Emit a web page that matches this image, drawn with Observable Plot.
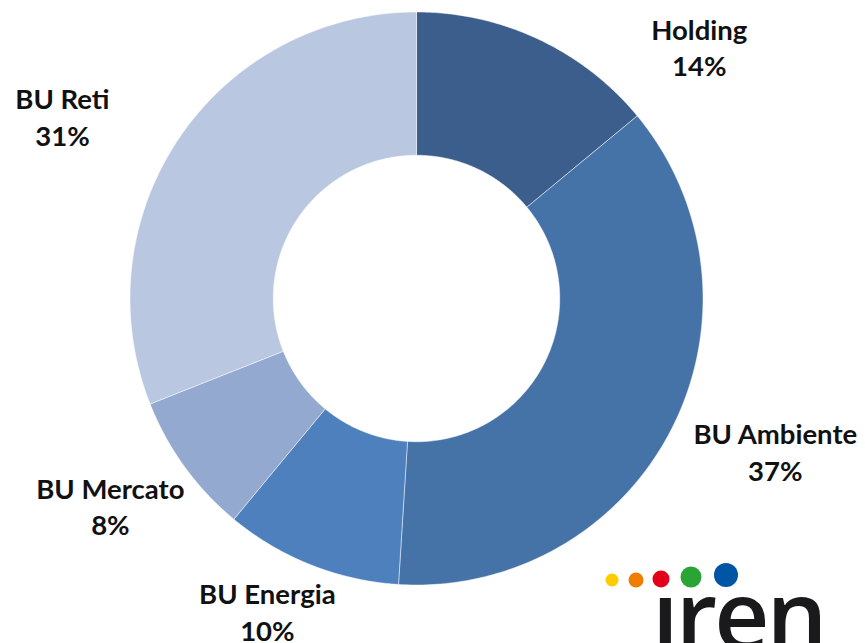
<!DOCTYPE html>
<html>
<head>
<meta charset="utf-8">
<script src="https://cdn.jsdelivr.net/npm/d3@7"></script>
<script src="https://cdn.jsdelivr.net/npm/@observablehq/plot@0.6"></script>
<style>
  html, body { margin: 0; padding: 0; background: #fff; }
  #wrap { position: relative; width: 865px; height: 643px; overflow: hidden; }
  #logo { position: absolute; left: 0; top: 0; pointer-events: none; }
</style>
</head>
<body>
<div id="wrap"></div>
<script>
// ---- data ----
const categories = ["Holding", "BU Ambiente", "BU Energia", "BU Mercato", "BU Reti"];
const shares = [14, 37, 10, 8, 31];

// ---- styles / layout ----
const colors = ["#3b5e8c", "#4572a7", "#4d80bc", "#93a9cf", "#b9c7e1"];
// label anchor in polar form: angle (deg, clockwise from top) and distance (px)
const labelAngle = [48.6, 113.4, 205.3, 235.6, 296.9];
const labelDist = [377, 391, 349, 371, 397];

const W = 865, H = 643;
const cx = 416, cy = 298, R = 286.5, inner = 0.5;

const pie = d3.pie().sort(null).value(d => d)(shares);
const pts = [];
pie.forEach((p, i) => {
  const cat = categories[i];
  const n = 160;
  const ring = [];
  for (let k = 0; k <= n; k++) {
    const a = p.startAngle + (p.endAngle - p.startAngle) * k / n;
    ring.push({cat, x: Math.sin(a), y: Math.cos(a)});
  }
  for (let k = n; k >= 0; k--) {
    const a = p.startAngle + (p.endAngle - p.startAngle) * k / n;
    ring.push({cat, x: inner * Math.sin(a), y: inner * Math.cos(a)});
  }
  ring.push(ring[0]);
  pts.push(...ring);
});

const labels = categories.map((c, i) => {
  const a = labelAngle[i] * Math.PI / 180;
  const d = labelDist[i] / R;
  return {text: `${c}\n${shares[i]}%`, x: d * Math.sin(a), y: d * Math.cos(a)};
});

const chart = Plot.plot({
  width: W,
  height: H,
  margin: 0,
  x: {domain: [-cx / R, (W - cx) / R], axis: null},
  y: {domain: [-(H - cy) / R, cy / R], axis: null},
  color: {domain: categories, range: colors},
  style: {background: "transparent"},
  marks: [
    Plot.line(pts, {x: "x", y: "y", z: "cat", fill: "cat", stroke: "#ffffff", strokeWidth: 0.8, strokeOpacity: 0.6, curve: "linear"}),
    Plot.text(labels, {x: "x", y: "y", dy: -3, text: "text", fontSize: 27.5, fontWeight: "bold", fontFamily: "Lato, 'Open Sans', sans-serif", fill: "#111", lineHeight: 1.32})
  ]
});
document.getElementById("wrap").appendChild(chart);

// ---- brand logo (decorative) ----
const logoDots = [
  {c: "#ffcc00", x: 612, y: 580, r: 6.5},
  {c: "#ef7d00", x: 636, y: 580, r: 7.5},
  {c: "#e2001a", x: 661, y: 579, r: 8.5},
  {c: "#2aa535", x: 691, y: 577, r: 10.5},
  {c: "#0055a4", x: 726, y: 575, r: 12}
];
const svgNS = "http://www.w3.org/2000/svg";
const logo = document.createElementNS(svgNS, "svg");
logo.setAttribute("id", "logo");
logo.setAttribute("width", W);
logo.setAttribute("height", H);
const defs = document.createElementNS(svgNS, "defs");
const clip = document.createElementNS(svgNS, "clipPath");
clip.setAttribute("id", "logoclip");
const cr = document.createElementNS(svgNS, "rect");
cr.setAttribute("x", 640); cr.setAttribute("y", 594); cr.setAttribute("width", 225); cr.setAttribute("height", 60);
clip.appendChild(cr); defs.appendChild(clip); logo.appendChild(defs);
const t = document.createElementNS(svgNS, "text");
t.setAttribute("x", 652);
t.setAttribute("y", 650);
t.setAttribute("font-family", "'Open Sans', sans-serif");
t.setAttribute("font-weight", "600");
t.setAttribute("font-size", "96");
t.setAttribute("fill", "#1a1a1c");
t.setAttribute("letter-spacing", "-3");
t.setAttribute("clip-path", "url(#logoclip)");
t.textContent = "iren";
logo.appendChild(t);
logoDots.forEach(d => {
  const c = document.createElementNS(svgNS, "circle");
  c.setAttribute("cx", d.x); c.setAttribute("cy", d.y); c.setAttribute("r", d.r);
  c.setAttribute("fill", d.c);
  logo.appendChild(c);
});
document.getElementById("wrap").appendChild(logo);
</script>
</body>
</html>
